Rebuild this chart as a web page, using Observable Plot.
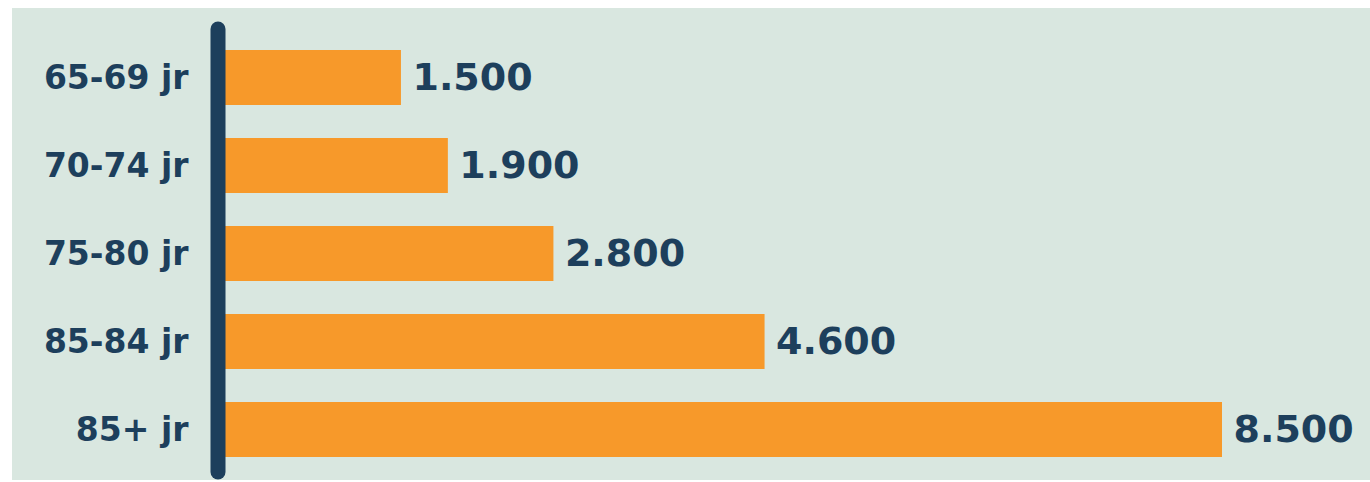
<!DOCTYPE html>
<html>
<head>
<meta charset="utf-8">
<script src="https://cdn.jsdelivr.net/npm/d3@7"></script>
<script src="https://cdn.jsdelivr.net/npm/@observablehq/plot@0.6"></script>
<style>
  html, body { margin: 0; padding: 0; background: #ffffff; }
  #wrap { position: relative; width: 1370px; height: 482px; overflow: hidden; }
  #bg { position: absolute; left: 12px; top: 8px; width: 1358px; height: 472px; background: #d9e7e0; }
  #chart { position: absolute; left: 0; top: 0; }
  #chart svg { background: transparent; }
</style>
</head>
<body>
<div id="wrap"><div id="bg"></div><div id="chart"></div></div>
<script>
const categories = ["65-69 jr", "70-74 jr", "75-80 jr", "85-84 jr", "85+ jr"];
const values = [1500, 1900, 2800, 4600, 8500];
const valueLabels = ["1.500", "1.900", "2.800", "4.600", "8.500"];

const data = categories.map((c, i) => ({cat: c, value: values[i], label: valueLabels[i]}));
const navy = "#1d3f5c";
const orange = "#f7992a";

const chart = Plot.plot({
  width: 1370,
  height: 482,
  marginTop: 29,
  marginBottom: 10,
  marginLeft: 0,
  marginRight: 0,
  style: {background: "transparent", fontFamily: "DejaVu Sans"},
  x: {domain: [0, 8500], range: [225, 1222], axis: null},
  y: {domain: categories, range: [49, 457], paddingInner: 0.377, paddingOuter: 0, axis: null},
  marks: [
    Plot.barX(data, {x: "value", y: "cat", fill: orange}),
    Plot.ruleX([0], {stroke: navy, strokeWidth: 15, strokeLinecap: "round", dx: -7.5}),
    Plot.text(data, {x: 0, y: "cat", text: "cat", dx: -37, textAnchor: "end", fill: navy, fontSize: 33, fontWeight: "bold"}),
    Plot.text(data, {x: "value", y: "cat", text: "label", dx: 11, textAnchor: "start", fill: navy, fontSize: 38, fontWeight: "bold"})
  ]
});
document.getElementById("chart").appendChild(chart);
</script>
</body>
</html>
